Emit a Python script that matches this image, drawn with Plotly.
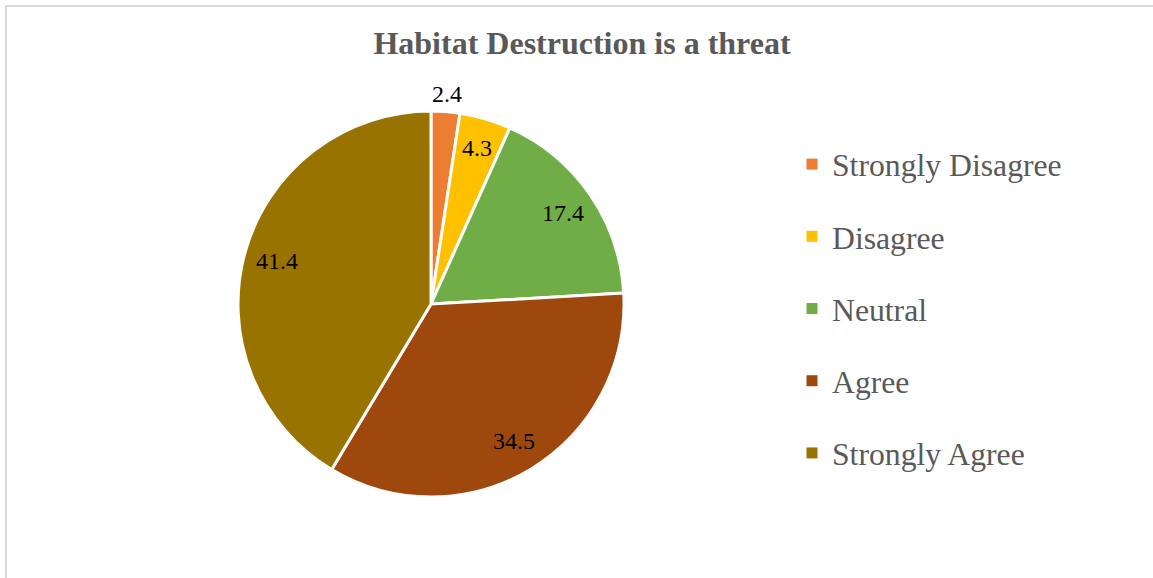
import math
import plotly.graph_objects as go

categories = ["Strongly Disagree", "Disagree", "Neutral", "Agree", "Strongly Agree"]
values = [2.4, 4.3, 17.4, 34.5, 41.4]
colors = ["#ED7D31", "#FFC000", "#70AD47", "#9E480E", "#997300"]
label_radius = [1.09, 0.84, 0.83, 0.83, 0.83]  # label distance as a fraction of pie radius

W, H = 1153, 578
cx, cy, r = 431, 304, 193
SERIF = "Liberation Serif"

fig = go.Figure()
fig.add_trace(go.Pie(
    labels=categories,
    values=values,
    sort=False,
    direction="clockwise",
    rotation=0,
    marker=dict(colors=colors, line=dict(color="white", width=3)),
    textinfo="none",
    showlegend=False,
    domain=dict(x=[(cx - r) / W, (cx + r) / W], y=[1 - (cy + r) / H, 1 - (cy - r) / H]),
    hoverinfo="label+value",
))

# data labels placed at each slice's mid-angle
total = sum(values)
annotations = []
cum = 0.0
for v, f in zip(values, label_radius):
    theta = 2 * math.pi * (cum + v / 2) / total
    cum += v
    px = cx + f * r * math.sin(theta)
    py = cy - f * r * math.cos(theta)
    annotations.append(dict(
        x=px / W, y=1 - py / H, xref="paper", yref="paper",
        text=f"{v}", showarrow=False, xanchor="center", yanchor="middle",
        font=dict(family=SERIF, size=24, color="black"),
    ))

for i, (c, col) in enumerate(zip(categories, colors)):
    fig.add_trace(go.Scatter(
        x=[None], y=[None], mode="markers", name=c,
        marker=dict(symbol="square", size=11, color=col),
        legendgroup=f"g{i}", showlegend=True,
    ))

fig.update_layout(
    width=W, height=H,
    font=dict(family=SERIF),
    margin=dict(l=0, r=0, t=0, b=0),
    paper_bgcolor="white", plot_bgcolor="white",
    xaxis=dict(visible=False), yaxis=dict(visible=False),
    title=dict(
        text="<b>Habitat Destruction is a threat</b>",
        x=582 / W, xanchor="center", y=1 - 43 / H, yanchor="middle",
        font=dict(family=SERIF, size=32, color="#595959"),
    ),
    legend=dict(
        x=(832 - 40) / W, xanchor="left", y=1 - 137 / H, yanchor="top",
        font=dict(family=SERIF, size=31.7, color="#595959"),
        tracegroupgap=28, bgcolor="rgba(0,0,0,0)",
    ),
    annotations=annotations,
    shapes=[dict(type="rect", xref="paper", yref="paper",
                 x0=6 / W, x1=1.01, y0=-0.02, y1=1 - 6 / H,
                 line=dict(color="#D9D9D9", width=2), layer="below")],
)

fig.write_html("out.html")
